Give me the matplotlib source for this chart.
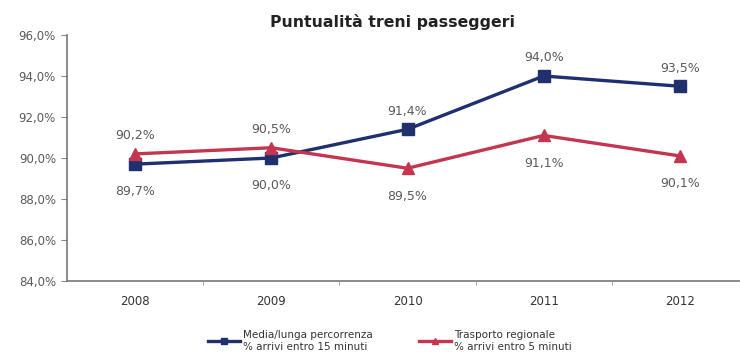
import matplotlib
matplotlib.use("Agg")
import matplotlib.pyplot as plt
from matplotlib.ticker import FixedLocator, FuncFormatter

years = ["2008", "2009", "2010", "2011", "2012"]
media_lunga = [89.7, 90.0, 91.4, 94.0, 93.5]
regionale = [90.2, 90.5, 89.5, 91.1, 90.1]
media_pos = ["below", "below", "above", "above", "above"]
regionale_pos = ["above", "above", "below", "below", "below"]
y_ticks = [84, 86, 88, 90, 92, 94, 96]

label_media = "Media/lunga percorrenza\n% arrivi entro 15 minuti"
label_regionale = "Trasporto regionale\n% arrivi entro 5 minuti"

BLUE = "#202F6E"
RED = "#C43550"
GREY = "#5A5A5A"

plt.rcParams["font.family"] = ["DejaVu Sans"]

fig = plt.figure(figsize=(7.40, 3.59), dpi=100)
ax = fig.add_axes([67 / 740, 1 - 281 / 359, (748 - 67) / 740, (281 - 35) / 359])

x = list(range(len(years)))
ax.plot(x, media_lunga, color=BLUE, lw=2.4, marker="s", ms=8, label=label_media,
        zorder=3)
ax.plot(x, regionale, color=RED, lw=2.4, marker="^", ms=8, label=label_regionale,
        zorder=3)


def fmt_pct(v):
    return f"{v:.1f}%".replace(".", ",")


for xs, vals, pos in ((x, media_lunga, media_pos), (x, regionale, regionale_pos)):
    for xi, v, p in zip(xs, vals, pos):
        dy = 13 if p == "above" else -20
        ax.annotate(fmt_pct(v), (xi, v), xytext=(0, dy), textcoords="offset points",
                    ha="center", va="center", fontsize=9, color=GREY)

ax.set_xlim(-0.5, len(years) - 0.5)
ax.set_ylim(84, 96)
ax.yaxis.set_major_locator(FixedLocator(y_ticks))
ax.yaxis.set_major_formatter(FuncFormatter(lambda v, _: fmt_pct(v)))
ax.set_xticks(x)
ax.set_xticklabels(years)
ax.set_xticks([i + 0.5 for i in range(len(years) - 1)], minor=True)

ax.tick_params(axis="y", direction="out", length=4, color="#888888",
               labelsize=8.5, labelcolor=GREY, pad=4)
ax.tick_params(axis="x", which="major", length=0, labelsize=8.5,
               labelcolor="#333333", pad=10)
ax.tick_params(axis="x", which="minor", direction="out", length=3, color="#999999")

for side in ("top", "right"):
    ax.spines[side].set_visible(False)
for side in ("left", "bottom"):
    ax.spines[side].set_color("#777777")
    ax.spines[side].set_linewidth(1.2)

fig.text(393 / 740, 1 - 22 / 359, "Puntualità treni passeggeri", ha="center",
         va="center", fontsize=11.3, fontweight="bold", color="#222222")

fig.legend(loc="center", bbox_to_anchor=(390 / 740, 1 - 341 / 359), ncol=2,
           frameon=False, fontsize=7.5, handlelength=3.0, handletextpad=0.3,
           columnspacing=4.5, markerscale=0.6, labelcolor="#333333")

fig.savefig("out.png", dpi=100)
